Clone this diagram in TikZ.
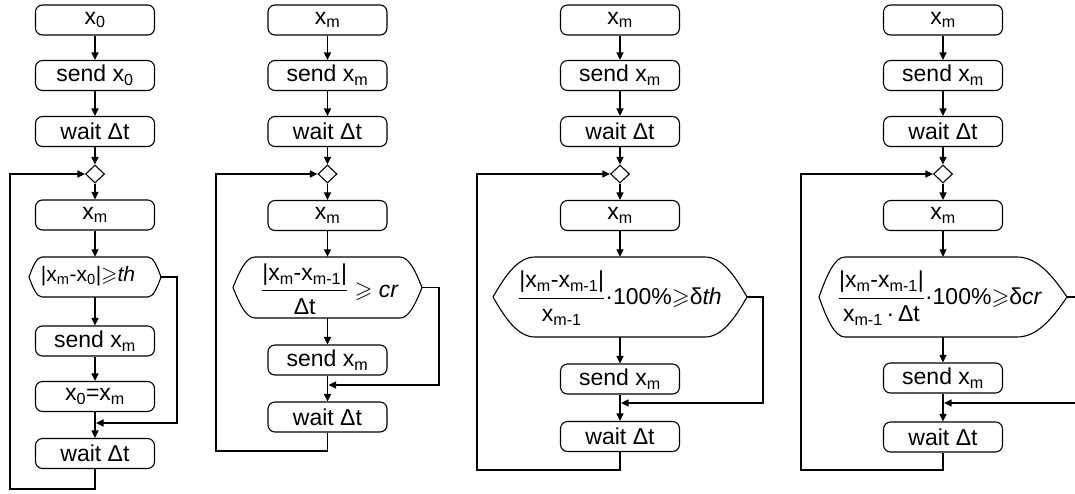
\documentclass[tikz,border=0pt]{standalone}
\usepackage{fontspec}
\setmainfont{Liberation Sans}
\usepackage{amssymb}
\usetikzlibrary{arrows.meta,shapes.geometric}
\newcommand\hexpath[6]{% cx, cy, hw, hh, left inset, right inset
\draw[ln] ({#1-#3},{#2}) .. controls ({#1-#3+0.3*#5},{#2-0.55*#4}) and ({#1-#3+0.6*#5},{#2-#4}) .. ({#1-#3+#5},{#2-#4})
 -- ({#1+#3-#6},{#2-#4}) .. controls ({#1+#3-0.6*#6},{#2-#4}) and ({#1+#3-0.3*#6},{#2-0.55*#4}) .. ({#1+#3},{#2})
 .. controls ({#1+#3-0.3*#6},{#2+0.55*#4}) and ({#1+#3-0.6*#6},{#2+#4}) .. ({#1+#3-#6},{#2+#4})
 -- ({#1-#3+#5},{#2+#4}) .. controls ({#1-#3+0.6*#5},{#2+#4}) and ({#1-#3+0.3*#5},{#2+0.55*#4}) .. cycle;}
\newcommand\xs[1]{x\textsubscript{#1}}
\begin{document}
\begin{tikzpicture}[x=1pt,y=-1pt,font=\fontsize{23}{26}\selectfont,
  ln/.style={line width=1.1pt},
  box/.style={draw,line width=1.1pt,rounded corners=7pt,minimum width=119pt,minimum height=30pt,inner sep=0pt},
  dia/.style={draw,line width=1.1pt,diamond,minimum width=19pt,minimum height=18pt,inner sep=0pt},
  hexn/.style={inner sep=0pt},
  arr/.style={line width=1.1pt,-{Triangle[length=7.5pt,width=7pt]}}]
\useasboundingbox (0,0) rectangle (1075,493);

% ---------- column 1 ----------
\node[box] (a1) at (95,20) {\xs{0}};
\node[box] (a2) at (95,75.5) {send \xs{0}};
\node[box] (a3) at (95,131.5) {wait Δt};
\node[dia] (a4) at (95,174) {};
\node[box] (a5) at (95,215) {\xs{m}};
\node[hexn,minimum width=132pt,minimum height=40pt] (a6) at (95,277) {};
\hexpath{95}{277}{66}{20}{13}{13}
\node[font=\fontsize{21}{24}\selectfont,inner sep=0pt] (a6t) at (88,276) {|\xs{m}-\xs{0}|$\geqslant$\textit{th}};
\node[box] (a7) at (95,341) {send \xs{m}};
\node[box] (a8) at (95,396.5) {\xs{0}=\xs{m}};
\node[box] (a9) at (95,453.5) {wait Δt};
\coordinate (a10) at (177,423);
\coordinate (a11) at (96,423);
\coordinate (a12) at (10,489);
\draw[arr] (a1) -- (a2);
\draw[arr] (a2) -- (a3);
\draw[arr] (a3) -- (a4);
\draw[arr] (a4) -- (a5);
\draw[arr] (a5) -- (a6);
\draw[arr] (a6) -- (a7);
\draw[arr] (a7) -- (a8);
\draw[arr] (a8) -- (a9);
\draw[arr] (a6.east) -| (a10) -- (a11);
\draw[arr] (a9.south) |- (a12) |- (a4.west);

% ---------- column 2 ----------
\node[box] (b1) at (327.5,20) {\xs{m}};
\node[box] (b2) at (327.5,75.5) {send \xs{m}};
\node[box] (b3) at (327.5,131.5) {wait Δt};
\node[dia] (b4) at (327.5,174) {};
\node[box] (b5) at (327.5,215.5) {\xs{m}};
\node[hexn,minimum width=189pt,minimum height=61pt] (b6) at (327.5,287.5) {};
\hexpath{327.5}{287.5}{94.5}{30.5}{22}{22}
\node (b6t) at (330,289) {$\displaystyle\frac{\mbox{|\xs{m}-\xs{m-1}|}}{\mbox{Δt}}$ $\geqslant$ \textit{cr}};
\node[box] (b7) at (327.5,360) {send \xs{m}};
\node[box] (b8) at (327.5,417) {wait Δt};
\coordinate (b10) at (439,385);
\coordinate (b11) at (328.5,385);
\coordinate (b12) at (216,451);
\draw[arr] (b1) -- (b2);
\draw[arr] (b2) -- (b3);
\draw[arr] (b3) -- (b4);
\draw[arr] (b4) -- (b5);
\draw[arr] (b5) -- (b6);
\draw[arr] (b6) -- (b7);
\draw[arr] (b7) -- (b8);
\draw[arr] (b6.east) -| (b10) -- (b11);
\draw[arr] (b8.south) |- (b12) |- (b4.west);

% ---------- column 3 ----------
\node[box] (c1) at (620,20) {\xs{m}};
\node[box] (c2) at (620,75.5) {send \xs{m}};
\node[box] (c3) at (620,131.5) {wait Δt};
\node[dia] (c4) at (620,174) {};
\node[box] (c5) at (620,215.5) {\xs{m}};
\node[hexn,minimum width=254pt,minimum height=80pt] (c6) at (620,297) {};
\hexpath{620}{297}{127}{40}{42}{42}
\node (c6t) at (620,298) {$\displaystyle\frac{\mbox{|\xs{m}-\xs{m-1}|}}{\mbox{\xs{m-1}}}$·100\%$\geqslant$δ\textit{th}};
\node[box] (c7) at (620,379) {send \xs{m}};
\node[box] (c8) at (620,436.5) {wait Δt};
\coordinate (c10) at (763,403);
\coordinate (c11) at (621,403);
\coordinate (c12) at (477,470);
\draw[arr] (c1) -- (c2);
\draw[arr] (c2) -- (c3);
\draw[arr] (c3) -- (c4);
\draw[arr] (c4) -- (c5);
\draw[arr] (c5) -- (c6);
\draw[arr] (c6) -- (c7);
\draw[arr] (c7) -- (c8);
\draw[arr] (c6.east) -| (c10) -- (c11);
\draw[arr] (c8.south) |- (c12) |- (c4.west);

% ---------- column 4 ----------
\node[box] (d1) at (943,20) {\xs{m}};
\node[box] (d2) at (943,75.5) {send \xs{m}};
\node[box] (d3) at (943,131.5) {wait Δt};
\node[dia] (d4) at (943,174) {};
\node[box] (d5) at (943,215.5) {\xs{m}};
\node[hexn,minimum width=248pt,minimum height=80pt] (d6) at (943,297) {};
\hexpath{943}{297}{124}{40}{26}{50}
\node (d6t) at (940,298) {$\displaystyle\frac{\mbox{|\xs{m}-\xs{m-1}|}}{\mbox{\xs{m-1}\,·\,Δt}}$·100\%$\geqslant$δ\textit{cr}};
\node[box] (d7) at (943,378) {send \xs{m}};
\node[box] (d8) at (943,437) {wait Δt};
\coordinate (d10) at (1082,403);
\coordinate (d11) at (944,403);
\coordinate (d12) at (801,470);
\draw[arr] (d1) -- (d2);
\draw[arr] (d2) -- (d3);
\draw[arr] (d3) -- (d4);
\draw[arr] (d4) -- (d5);
\draw[arr] (d5) -- (d6);
\draw[arr] (d6) -- (d7);
\draw[arr] (d7) -- (d8);
\draw[arr] (d6.east) -| (d10) -- (d11);
\draw[arr] (d8.south) |- (d12) |- (d4.west);
\end{tikzpicture}
\end{document}
